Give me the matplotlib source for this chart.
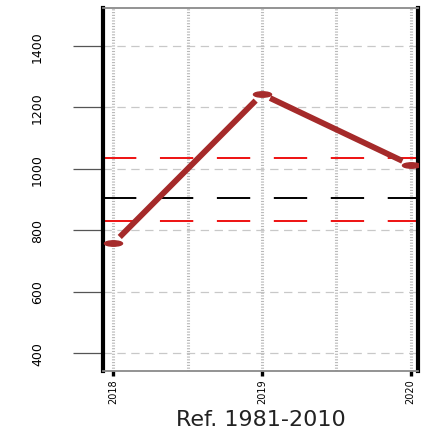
import numpy as np
import matplotlib
matplotlib.use('Agg')
import matplotlib.pyplot as plt
from matplotlib.path import Path
from matplotlib.transforms import Affine2D

# values
years = [2018, 2019, 2020]
values = [757, 1243, 1013]
ref_mean = 906
ref_upper = 1036
ref_lower = 829
y_ticks = [400, 600, 800, 1000, 1200, 1400]
x_ticks = [2018, 2019, 2020]
x_grid = [2018, 2018.5, 2019, 2019.5, 2020]
x_label = 'Ref. 1981-2010'

plt.rcParams['lines.scale_dashes'] = False

fig = plt.figure(figsize=(4.34, 4.31), dpi=100)
ax = fig.add_axes([103 / 434, 1 - 372 / 431, 315 / 434, 363 / 431])
ax.set_xlim(2017.93, 2020.05)
ax.set_ylim(341, 1524)

# grid
for v in y_ticks:
    ax.axhline(v, color='#c8c8c8', lw=0.9, dashes=(6, 4), zorder=1)
for g in x_grid:
    ax.axvline(g, color='#b8b8b8', lw=2.2, dashes=(0.8, 1.2), zorder=1)

# reference lines
ax.axhline(ref_upper, color='#ee1111', lw=1.4, dashes=(24, 17), zorder=2)
ax.axhline(ref_mean, color='black', lw=1.4, dashes=(24, 17), zorder=2)
ax.axhline(ref_lower, color='#ee1111', lw=1.4, dashes=(24, 17), zorder=2)

# line segments with gaps around the points (R type "b")
brown = '#a52a2a'
pts = ax.transData.transform(np.column_stack([years, values]))
gap = 9
inv = ax.transData.inverted()
for i in range(len(pts) - 1):
    p0, p1 = pts[i], pts[i + 1]
    d = (p1 - p0) / np.hypot(*(p1 - p0))
    a = inv.transform(p0 + d * gap)
    b = inv.transform(p1 - d * gap)
    ax.plot([a[0], b[0]], [a[1], b[1]], color=brown, lw=4.2,
            solid_capstyle='butt', zorder=3)

flat = Path.unit_circle().transformed(Affine2D().scale(1, 0.3))
ax.plot(years, values, ls='none', marker=flat, ms=13, color=brown,
        mec=brown, zorder=4)

# axes frame
for side in ['left', 'right']:
    ax.spines[side].set_linewidth(3)
    ax.spines[side].set_color('black')
for side in ['top', 'bottom']:
    ax.spines[side].set_linewidth(1.3)
    ax.spines[side].set_color('#8a8a8a')

ax.set_yticks(y_ticks)
ax.set_yticklabels([str(v) for v in y_ticks], rotation=90, va='center')
ax.tick_params(axis='y', length=21.5, width=0.9, color='#555555', pad=21,
               labelsize=9)
ax.set_xticks(x_ticks)
ax.set_xticklabels([str(v) for v in x_ticks], rotation=90)
ax.tick_params(axis='x', length=3.6, width=2.4, color='black', pad=1.5,
               labelsize=7)

fig.text(260.5 / 434, 1 - 430 / 431, x_label, ha='center', va='bottom',
         fontsize=16, color='#222222')

fig.savefig('out.png', dpi=100)
